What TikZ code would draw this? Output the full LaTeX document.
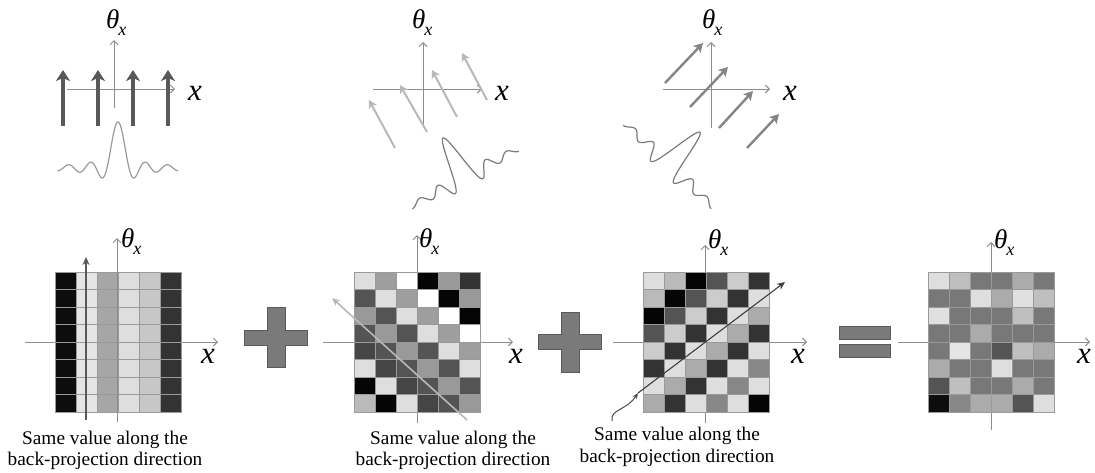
\documentclass[tikz,border=0pt]{standalone}
\usepackage{fontspec}
\setmainfont{Liberation Serif}
\newfontfamily\capfont{Liberation Serif}
\usetikzlibrary{arrows.meta}
\definecolor{axisgray}{HTML}{8C8C8C}
\definecolor{cellline}{HTML}{9A9A9A}
\definecolor{opfill}{HTML}{7A7A7A}
\definecolor{opdraw}{HTML}{5A5A5A}
\definecolor{thickdark}{HTML}{595959}
\definecolor{lightarr}{HTML}{B8B8B8}
\definecolor{midarr}{HTML}{858585}
\definecolor{curvegray}{HTML}{9A9A9A}
\definecolor{curvedark}{HTML}{7A7A7A}
\newcommand{\thx}{{\capfont\fontsize{27}{27}\selectfont\itshape θ}\kern-1pt\raisebox{-7pt}{\capfont\fontsize{18}{18}\selectfont\itshape x}}
\newcommand{\xl}{{\capfont\fontsize{31}{31}\selectfont\itshape x}}
\newcommand{\drawgrid}[2]{%
  \foreach \row [count=\r] in {#2} {%
    \foreach \g [count=\c] in \row {%
      \pgfmathsetmacro\p{100*(1-\g)}%
      \filldraw[fill=black!\p,draw=cellline,line width=0.5pt] ({#1+(\c-1)*21},{272+(\r-1)*17.5}) rectangle ++(21,17.5);
    }%
  }%
}
\begin{document}
\begin{tikzpicture}[x=1pt,y=-1pt,
  declare function={sinc(\t)=sin(180*\t)/(pi*\t);},
  axis/.style={draw=axisgray,line width=1pt,-{Straight Barb[length=4pt,width=8pt]}},
  bigarrow/.style={draw=thickdark,line width=3.2pt,-{Stealth[length=11pt,width=14pt,inset=3pt]}},
  lightarrow/.style={draw=lightarr,line width=2pt,-{Stealth[length=8pt,width=9pt,inset=2pt]}},
  midarrow/.style={draw=midarr,line width=2.4pt,-{Stealth[length=9pt,width=10pt,inset=2pt]}},
  thinarrow/.style={line width=1.1pt,-{Stealth[length=8pt,width=7pt]}},
  opshape/.style={fill=opfill,draw=opdraw,line width=0.8pt},
  thlabel/.style={anchor=base west,inner sep=0pt},
  xlabel/.style={anchor=center,inner sep=0pt},
  caption/.style={anchor=base,inner sep=0pt,font=\capfont\fontsize{19.3}{21.5}\selectfont},
  curve/.style={line width=1.2pt}
]
\useasboundingbox (0,0) rectangle (1095,472);

% ---------------- top panel 1 ----------------
\draw[axis] (67,89) -- (175,89);
\draw[axis] (114,108) -- (114,40);
\foreach \x in {63,98,133,168} \draw[bigarrow] (\x,126) -- (\x,70);
\draw[curve,curvegray] plot[domain=-5.5:5.5,samples=200,variable=\t] ({118+11*\t},{168-46*sinc(\t)});
\node[thlabel] (th1) at (106,28.5) {\thx};
\node[xlabel] (x1) at (195,93) {\xl};

% ---------------- top panel 2 ----------------
\draw[axis] (373,89) -- (482,89);
\draw[axis] (423,125) -- (423,42);
\draw[lightarrow] (395,148) -- (369,100);
\draw[lightarrow] (427,132) -- (400,85);
\draw[lightarrow] (457,117) -- (432,70);
\draw[lightarrow] (487,100) -- (462,53);
\draw[curve,curvedark] plot[domain=-5.5:5.5,samples=200,variable=\t] ({464.4+9.67*\t-21.4*sinc(\t)},{177.6-5.24*\t-39.6*sinc(\t)});
\node[thlabel] (th2) at (412,28.5) {\thx};
\node[xlabel] (x2) at (502,93) {\xl};

% ---------------- top panel 3 ----------------
\draw[axis] (663,89) -- (770,89);
\draw[axis] (711,128) -- (711,42);
\draw[midarrow] (665,83) -- (703,43);
\draw[midarrow] (690,107) -- (728,67);
\draw[midarrow] (719,128) -- (753,91);
\draw[midarrow] (747,148) -- (779,114);
\draw[curve,curvedark] plot[domain=-5.5:5.5,samples=200,variable=\t] ({669+8.0*\t+31.0*sinc(\t)},{165+7.59*\t-32.7*sinc(\t)});
\node[thlabel] (th3) at (702,28.5) {\thx};
\node[xlabel] (x3) at (790,93) {\xl};

% ---------------- bottom panel 1 ----------------
\draw[axis] (25,342) -- (218,342);
\draw[axis] (117,422) -- (117,238);
\drawgrid{55}{{0.05,0.9,0.65,0.87,0.78,0.2},{0.05,0.9,0.65,0.87,0.78,0.2},{0.05,0.9,0.65,0.87,0.78,0.2},{0.05,0.9,0.65,0.87,0.78,0.2},{0.05,0.9,0.65,0.87,0.78,0.2},{0.05,0.9,0.65,0.87,0.78,0.2},{0.05,0.9,0.65,0.87,0.78,0.2},{0.05,0.9,0.65,0.87,0.78,0.2}}
\draw[axisgray,line width=1pt] (117,272) -- (117,412);
\coordinate (a1s) at (86,420);
\coordinate (a1e) at (86,257);
\draw[thinarrow,draw=thickdark,fill=thickdark] (a1s) -- (a1e);
\node[thlabel] (th4) at (121,247) {\thx};
\node[xlabel] (x4) at (208,356) {\xl};
\node[caption] (c1a) at (105,444) {Same value along the};
\node[caption] (c1b) at (105,465) {back-projection direction};

% plus 1
\begin{scope}[shift={(276,337.5)}]
\draw[opshape] (-9,-30) -- (9,-30) -- (9,-7.5) -- (31.5,-7.5) -- (31.5,7.5) -- (9,7.5) -- (9,30) -- (-9,30) -- (-9,7.5) -- (-31.5,7.5) -- (-31.5,-7.5) -- (-9,-7.5) -- cycle;
\end{scope}

% ---------------- bottom panel 2 ----------------
\draw[axis] (323,342) -- (513,342);
\draw[axis] (417,423) -- (417,235);
\drawgrid{354}{{0.87,0.62,1,0.02,0.6,0.2},{0.33,0.87,0.62,1,0.02,0.6},{0.6,0.33,0.87,0.62,1,0.02},{0.33,0.6,0.33,0.87,0.62,1},{0.27,0.33,0.6,0.33,0.87,0.62},{0.87,0.27,0.33,0.6,0.33,0.87},{0.02,0.87,0.27,0.33,0.6,0.33},{0.73,0.02,0.87,0.27,0.33,0.6}}
\coordinate (a2s) at (467,420);
\coordinate (a2e) at (332,298);
\draw[thinarrow,draw=lightarr,fill=lightarr,line width=1.6pt] (a2s) -- (a2e);
\node[thlabel] (th5) at (419,247) {\thx};
\node[xlabel] (x5) at (516,356) {\xl};
\node[caption] (c2a) at (453,444) {Same value along the};
\node[caption] (c2b) at (453,465) {back-projection direction};

% plus 2
\begin{scope}[shift={(570,342)}]
\draw[opshape] (-9,-30) -- (9,-30) -- (9,-7.5) -- (31.5,-7.5) -- (31.5,7.5) -- (9,7.5) -- (9,30) -- (-9,30) -- (-9,7.5) -- (-31.5,7.5) -- (-31.5,-7.5) -- (-9,-7.5) -- cycle;
\end{scope}

% ---------------- bottom panel 3 ----------------
\draw[axis] (613,342) -- (807,342);
\draw[axis] (705,423) -- (705,245);
\drawgrid{643}{{0.87,0.73,0.02,0.33,0.8,0.2},{0.73,0.02,0.33,0.8,0.2,0.87},{0.02,0.33,0.8,0.2,0.87,0.67},{0.33,0.8,0.2,0.87,0.67,0.2},{0.8,0.2,0.87,0.67,0.2,0.87},{0.2,0.87,0.67,0.2,0.87,0.53},{0.87,0.67,0.2,0.87,0.53,0.87},{0.67,0.2,0.87,0.53,0.87,0.02}}
\coordinate (a3s) at (638,393);
\coordinate (a3e) at (785,282);
\draw[thinarrow,draw=black!75,fill=black!75] (a3s) -- (a3e);
\coordinate (p3) at (612,421);
\draw[draw=black!70,line width=1pt,-{Stealth[length=6pt,width=5pt]}] (p3) .. controls (610,409) and (626,411) .. (a3s);
\node[thlabel] (th6) at (708,248) {\thx};
\node[xlabel] (x6) at (798,356) {\xl};
\node[caption] (c3a) at (677,440) {Same value along the};
\node[caption] (c3b) at (677,462) {back-projection direction};

% equals
\draw[opshape] (839,326) rectangle (890,339);
\draw[opshape] (839,344) rectangle (890,357);

% ---------------- bottom panel 4 ----------------
\draw[axis] (898,342) -- (1090,342);
\draw[axis] (991,430) -- (991,242);
\drawgrid{928}{{0.87,0.75,0.47,0.47,0.67,0.47},{0.47,0.47,0.87,0.67,0.88,0.75},{0.88,0.47,0.47,0.47,0.75,0.47},{0.47,0.47,0.67,0.47,0.47,0.47},{0.47,0.9,0.47,0.33,0.75,0.67},{0.67,0.47,0.47,0.87,0.47,0.47},{0.33,0.75,0.47,0.47,0.67,0.47},{0.05,0.53,0.67,0.67,0.33,0.87}}
\node[thlabel] (th7) at (994,248) {\thx};
\node[xlabel] (x7) at (1084,356) {\xl};
\end{tikzpicture}
\end{document}
